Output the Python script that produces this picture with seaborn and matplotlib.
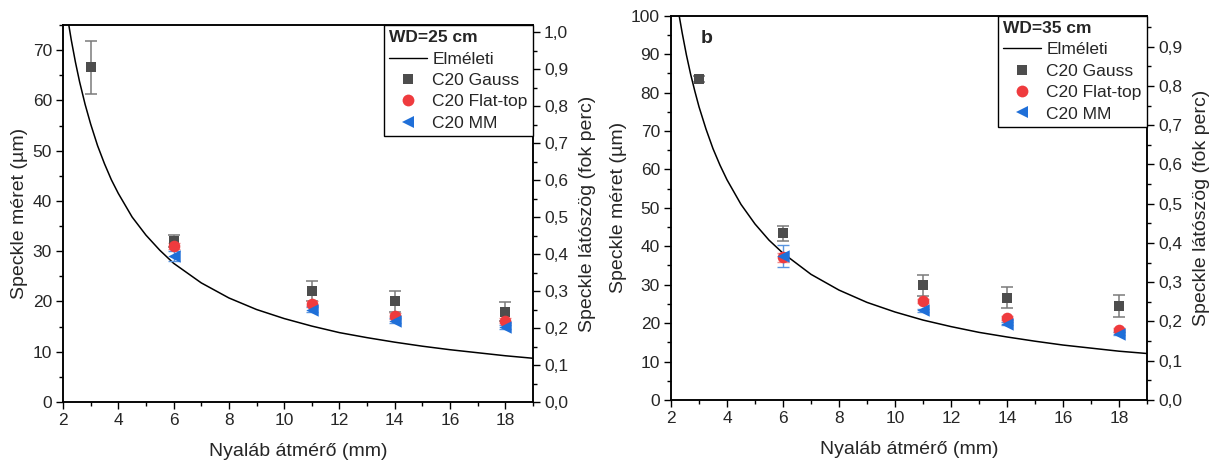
import matplotlib
matplotlib.use("Agg")
import matplotlib.pyplot as plt
from matplotlib.lines import Line2D
from matplotlib.ticker import MultipleLocator, FuncFormatter
import seaborn as sns
import pandas as pd

# ---------------- data ----------------
x_gauss = [3, 6, 11, 14, 18]
x_other = [6, 11, 14, 18]

# WD = 25 cm
gauss25 = [66.6, 32.0, 22.0, 20.0, 18.0]
gauss25_err = [5.3, 1.2, 2.0, 2.0, 1.8]
flat25 = [31.1, 19.5, 17.2, 16.2]
flat25_err = [0.6, 0.5, 0.6, 0.5]
mm25 = [29.0, 18.4, 16.2, 14.9]
mm25_err = [1.0, 0.4, 0.5, 0.4]
theory25_x = [2.18, 2.3, 2.45, 2.6, 2.8, 3.0, 3.25, 3.5, 3.75, 4.0, 4.5, 5.0, 5.5, 6.0,
              7.0, 8.0, 9.0, 10.0, 11.0, 12.0, 13.0, 14.0, 15.0, 16.0, 17.0, 18.0, 19.0]
theory25_y = [76.0, 72.0, 67.6, 63.7, 59.2, 55.3, 51.0, 47.4, 44.2, 41.5, 36.8, 33.2, 30.2, 27.6,
              23.7, 20.7, 18.4, 16.6, 15.1, 13.8, 12.8, 11.9, 11.1, 10.4, 9.8, 9.2, 8.7]

# WD = 35 cm
gauss35 = [83.5, 43.4, 29.8, 26.6, 24.5]
gauss35_err = [0.8, 2.0, 2.8, 2.7, 2.9]
flat35 = [37.1, 25.8, 21.3, 18.3]
flat35_err = [1.2, 0.5, 0.5, 0.5]
mm35 = [37.5, 23.4, 19.8, 17.2]
mm35_err = [2.8, 0.4, 0.4, 0.4]
theory35_x = [2.28, 2.4, 2.55, 2.7, 2.85, 3.0, 3.25, 3.5, 3.75, 4.0, 4.5, 5.0, 5.5, 6.0,
              7.0, 8.0, 9.0, 10.0, 11.0, 12.0, 13.0, 14.0, 15.0, 16.0, 17.0, 18.0, 19.0]
theory35_y = [100.5, 95.5, 89.8, 84.8, 80.4, 76.3, 70.5, 65.4, 61.1, 57.3, 50.9, 45.8, 41.6, 38.2,
              32.7, 28.6, 25.4, 22.9, 20.8, 19.1, 17.6, 16.4, 15.3, 14.3, 13.5, 12.7, 12.1]

labels = ["Elméleti", "C20 Gauss", "C20 Flat-top", "C20 MM"]
x_label = "Nyaláb átmérő (mm)"
y_label = "Speckle méret (µm)"
y2_label = "Speckle látószög (fok perc)"

C_GAUSS = "#4d4d4d"
C_GAUSS_ERR = "#7a7a7a"
C_FLAT = "#ef3b3e"
C_MM = "#1f6fd8"

sns.set_style("ticks")
plt.rcParams["font.family"] = ["Liberation Sans", "DejaVu Sans"]
plt.rcParams["axes.linewidth"] = 1.1
plt.rcParams["xtick.major.width"] = 1.0
plt.rcParams["ytick.major.width"] = 1.0
plt.rcParams["xtick.minor.width"] = 1.0
plt.rcParams["ytick.minor.width"] = 1.0

fig = plt.figure(figsize=(12.13, 4.62), dpi=100)
axA = fig.add_axes([63 / 1213, 60 / 462, 470 / 1213, 377 / 462])
axB = fig.add_axes([671 / 1213, 62 / 462, 476 / 1213, 384.3 / 462])

TICK_FS = 12.5


def panel(ax, g, ge, f, fe, m, me, tx, ty, ymax, y2max, title):
    sns.lineplot(x=tx, y=ty, ax=ax, color="black", lw=1.1, sort=False, legend=False)
    ax.errorbar(x_gauss, g, yerr=ge, fmt="none", ecolor=C_GAUSS_ERR, elinewidth=1.1,
                capsize=4, capthick=1.1, zorder=3)
    ax.errorbar(x_other, f, yerr=fe, fmt="none", ecolor="#f08a8c", elinewidth=1.0,
                capsize=4, capthick=1.0, zorder=3)
    ax.errorbar(x_other, m, yerr=me, fmt="none", ecolor="#5a95e0", elinewidth=1.0,
                capsize=4, capthick=1.0, zorder=3)
    sns.scatterplot(x=x_gauss, y=g, ax=ax, marker="s", s=60, color=C_GAUSS, linewidth=0, zorder=4)
    sns.scatterplot(x=x_other, y=f, ax=ax, marker="o", s=70, color=C_FLAT, linewidth=0, zorder=5)
    sns.scatterplot(x=x_other, y=m, ax=ax, marker="<", s=80, color=C_MM, linewidth=0, zorder=6)

    ax.set_xlim(2, 19)
    ax.set_ylim(0, ymax)
    ax.xaxis.set_major_locator(MultipleLocator(2))
    ax.xaxis.set_minor_locator(MultipleLocator(1))
    ax.yaxis.set_major_locator(MultipleLocator(10))
    ax.yaxis.set_minor_locator(MultipleLocator(5))
    ax.tick_params(which="major", length=5, labelsize=TICK_FS, direction="out", color="black", pad=3)
    ax.tick_params(which="minor", length=3, direction="out", color="black")
    ax.set_xlabel(x_label, fontsize=14, labelpad=11)
    ax.set_ylabel(y_label, fontsize=14, labelpad=3)
    for sp in ax.spines.values():
        sp.set_visible(True)
        sp.set_color("black")

    ax2 = ax.twinx()
    ax2.set_ylim(0, y2max)
    ax2.yaxis.set_major_locator(MultipleLocator(0.1))
    ax2.yaxis.set_minor_locator(MultipleLocator(0.05))
    ax2.yaxis.set_major_formatter(FuncFormatter(lambda v, p: f"{v:.1f}".replace(".", ",")))
    ax2.tick_params(which="major", length=5, labelsize=TICK_FS, direction="out", color="black", pad=3)
    ax2.tick_params(which="minor", length=3, direction="out", color="black")
    ax2.set_ylabel(y2_label, fontsize=14, labelpad=8)
    for sp in ax2.spines.values():
        sp.set_visible(True)
        sp.set_color("black")

    handles = [
        Line2D([], [], color="black", lw=1.0),
        Line2D([], [], marker="s", ls="none", color=C_GAUSS, markersize=7, markeredgewidth=0),
        Line2D([], [], marker="o", ls="none", color=C_FLAT, markersize=8.5, markeredgewidth=0),
        Line2D([], [], marker="<", ls="none", color=C_MM, markersize=9, markeredgewidth=0),
    ]
    leg = ax2.legend(handles, labels, loc="upper right", borderaxespad=0, fontsize=12.5,
                     title=title, title_fontproperties={"weight": "bold", "size": 12.5},
                     alignment="left", frameon=True, fancybox=False, framealpha=1,
                     edgecolor="black", handlelength=2.2, handletextpad=0.3,
                     labelspacing=0.36, borderpad=0.3)
    leg.get_frame().set_linewidth(1.0)
    return ax2


panel(axA, gauss25, gauss25_err, flat25, flat25_err, mm25, mm25_err,
      theory25_x, theory25_y, 75, 1.019, "WD=25 cm")
panel(axB, gauss35, gauss35_err, flat35, flat35_err, mm35, mm35_err,
      theory35_x, theory35_y, 100, 0.979, "WD=35 cm")
axB.text(0.062, 0.94, "b", transform=axB.transAxes, fontsize=14, fontweight="bold",
         ha="left", va="center")

fig.savefig("out.png", dpi=100)
